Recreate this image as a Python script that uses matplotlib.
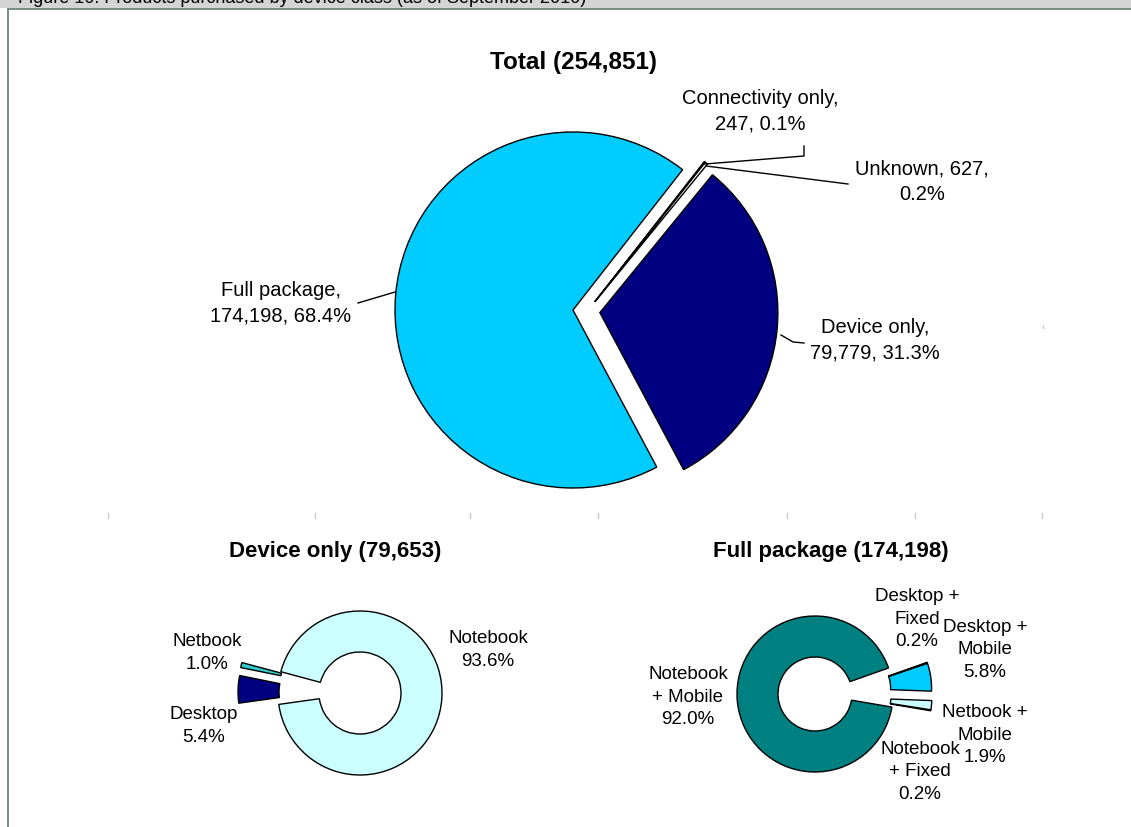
import math
import matplotlib
matplotlib.use("Agg")
import matplotlib.pyplot as plt
from matplotlib.patches import Rectangle

# ---------------- data ----------------
total_title = "Total (254,851)"
total_labels = ["Connectivity only", "Unknown", "Device only", "Full package"]
total_values = [247, 627, 79779, 174198]
total_pcts = ["0.1%", "0.2%", "31.3%", "68.4%"]

device_title = "Device only (79,653)"
device_labels = ["Notebook", "Netbook", "Desktop"]
device_values = [93.6, 1.0, 5.4]

full_title = "Full package (174,198)"
full_labels = ["Notebook\n+ Mobile", "Notebook\n+ Fixed", "Netbook +\nMobile",
               "Desktop +\nMobile", "Desktop +\nFixed"]
full_values = [92.0, 0.2, 1.9, 5.8, 0.2]

caption = "Figure 10. Products purchased by device class (as of September 2010)"

# ---------------- figure ----------------
W, H = 1131, 827
fig = plt.figure(figsize=(W / 100, H / 100), dpi=100)
ax = fig.add_axes([0, 0, 1, 1])
FONT = ["Liberation Sans", "DejaVu Sans"]


def Y(y):
    return H - y


# header band + frame
ax.text(18, Y(3), caption, fontsize=13, family=FONT, color="black",
        ha="left", va="baseline", zorder=1)
ax.add_patch(Rectangle((0, Y(8)), W, 8, facecolor="#D4D4D4", edgecolor="none", zorder=0))
ax.add_patch(Rectangle((7.5, Y(830)), W, 830 - 9, facecolor="white",
                       edgecolor="#6B8375", lw=1.3, zorder=2))

wp = dict(edgecolor="black", linewidth=1.0)

# ---------------- main pie ----------------
cx, cy, r = 573, Y(310), 178
tot_colors = ["#33FFFF", "#FFFFFF", "#000080", "#00CCFF"]
tot_explode = [20, 20, 27, 0]
wedges, _ = ax.pie(total_values, colors=tot_colors, explode=tot_explode,
                   startangle=52, counterclock=False, radius=r, center=(cx, cy),
                   wedgeprops=wp, frame=True)
for w in wedges:
    w.set_zorder(3)
# small slices sit in the gap between the two big slices
a = math.radians(51.5)
for i in (0, 1):
    x0, y0 = wedges[i].center
    wedges[i].set_center((x0 + 12 * math.sin(a), y0 - 12 * math.cos(a)))

ax.text(cx, Y(63), total_title, fontsize=17.5, fontweight="bold", family=FONT,
        ha="center", va="center", zorder=5)

lab_kw = dict(fontsize=14.5, family=FONT, ha="center", va="center",
              linespacing=1.45, zorder=5)


def fmt(i):
    return f"{total_values[i]:,}, {total_pcts[i]}"


ax.text(760, Y(111), f"{total_labels[0]},\n{fmt(0)}", **lab_kw)
ax.plot([705, 804, 804], [Y(164), Y(156), Y(146)], color="black", lw=1, zorder=4)
ax.text(922, Y(182), f"{total_labels[1]}, {total_values[1]},\n{total_pcts[1]}", **lab_kw)
ax.plot([706, 848], [Y(166), Y(184)], color="black", lw=1, zorder=4)
ax.text(281, Y(303), f"{total_labels[3]},\n{fmt(3)}", **lab_kw)
ax.plot([358, 395], [Y(303), Y(292)], color="black", lw=1, zorder=4)
ax.text(875, Y(340), f"{total_labels[2]},\n{fmt(2)}", **lab_kw)
ax.plot([781, 793, 804], [Y(335), Y(342), Y(343)], color="black", lw=1, zorder=4)

# faint tick marks
for tx in [108, 315, 470, 598, 787, 915, 1042]:
    ax.plot([tx, tx], [Y(513), Y(518)], color="#C8C8C8", lw=1, zorder=3)
ax.plot([1043, 1043], [Y(326), Y(328)], color="#C8C8C8", lw=1, zorder=3)

# ---------------- device-only donut ----------------
dcx, dcy, dr = 360, Y(693), 82
dev_colors = ["#CCFFFF", "#33CCCC", "#000080"]
dev_explode = [0, 40, 40]
dw, _ = ax.pie(device_values, colors=dev_colors, explode=dev_explode,
               startangle=188, counterclock=True, radius=dr, center=(dcx, dcy),
               wedgeprops=dict(width=41, **wp), frame=True)
for w in dw:
    w.set_zorder(3)
ax.text(335, Y(551), device_title, fontsize=16, fontweight="bold", family=FONT,
        ha="center", va="center", zorder=5)
sm_kw = dict(fontsize=13.5, family=FONT, ha="center", va="center",
             linespacing=1.45, zorder=5)
ax.text(488, Y(650), f"{device_labels[0]}\n{device_values[0]:.1f}%", **sm_kw)
ax.text(207, Y(653), f"{device_labels[1]}\n{device_values[1]:.1f}%", **sm_kw)
ax.text(204, Y(726), f"{device_labels[2]}\n{device_values[2]:.1f}%", **sm_kw)

# ---------------- full-package donut ----------------
fcx, fcy, fr = 815, Y(694), 78
full_colors = ["#008080", "#FFFFFF", "#CCFFFF", "#00CCFF", "#000080"]
full_explode = [0, 39, 39, 39, 39]
fw, _ = ax.pie(full_values, colors=full_colors, explode=full_explode,
               startangle=19.5, counterclock=True, radius=fr, center=(fcx, fcy),
               wedgeprops=dict(width=41, **wp), frame=True)
for w in fw:
    w.set_zorder(3)
# thin "Desktop + Fixed" sliver rides on the "Desktop + Mobile" block
fw[4].set_center(fw[3].center)
fw[4].set_hatch("....")
fw[1].set_center(fw[2].center)
ax.text(831, Y(552), full_title, fontsize=16, fontweight="bold", family=FONT,
        ha="center", va="center", zorder=5)
ax.text(688, Y(697), f"{full_labels[0]}\n{full_values[0]:.1f}%", **sm_kw)
ax.text(920, Y(772), f"{full_labels[1]}\n{full_values[1]:.1f}%", **sm_kw)
ax.text(985, Y(735), f"{full_labels[2]}\n{full_values[2]:.1f}%", **sm_kw)
ax.text(985, Y(650), f"{full_labels[3]}\n{full_values[3]:.1f}%", **sm_kw)
ax.text(917, Y(619), f"{full_labels[4]}\n{full_values[4]:.1f}%", **sm_kw)

ax.set_xlim(0, W)
ax.set_ylim(0, H)
ax.set_aspect("auto")
ax.axis("off")
fig.savefig("out.png", dpi=100)
